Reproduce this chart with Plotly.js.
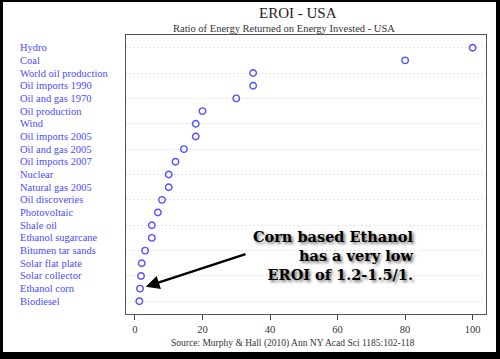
<!DOCTYPE html>
<html>
<head>
<meta charset="utf-8">
<script src="https://cdn.plot.ly/plotly-3.0.1.min.js"></script>
<style>
html,body{margin:0;padding:0;background:#000;width:500px;height:359px;overflow:hidden;}
#chart{position:absolute;left:3px;top:2px;width:493px;height:350px;background:#fff;}
</style>
</head>
<body>
<div id="chart"></div>
<script>
const labels = ["Hydro","Coal","World oil production","Oil imports 1990","Oil and gas 1970",
  "Oil production","Wind","Oil imports 2005","Oil and gas 2005","Oil imports 2007",
  "Nuclear","Natural gas 2005","Oil discoveries","Photovoltaic","Shale oil",
  "Ethanol sugarcane","Bitumen tar sands","Solar flat plate","Solar collector","Ethanol corn","Biodiesel"];
const eroi = [100, 80, 35, 35, 30, 20, 18, 18, 14.5, 12, 10, 10, 8, 6.8, 5, 5, 3, 2, 1.8, 1.5, 1.3];
const xTicks = [0, 20, 40, 60, 80, 100];
const titleText = "EROI - USA";
const subtitleText = "Ratio of Energy Returned on Energy Invested - USA";
const sourceText = "Source: Murphy &amp; Hall (2010) Ann NY Acad Sci 1185:102-118";
const calloutText = "Corn based Ethanol<br>has a very low<br>EROI of 1.2-1.5/1.";
const calloutTarget = "Ethanol corn";

const n = labels.length;
const serif = "Liberation Serif, Times New Roman, serif";

const trace = {
  type: "scatter", mode: "markers",
  x: eroi, y: labels,
  marker: {symbol: "circle-open", size: 6.5, color: "#5050ff", line: {width: 1.4, color: "#5050ff"}},
  hoverinfo: "x+y", cliponaxis: false
};

const annotations = labels.map(c => ({
  text: c, xref: "paper", yref: "y", x: -0.3, y: c,
  xanchor: "left", yanchor: "middle", showarrow: false,
  font: {family: serif, size: 10.5, color: "#4a4aff"}
}));

annotations.push(
  {text: titleText, xref: "paper", yref: "paper", x: 0.478, y: 1.079, xanchor: "center", yanchor: "middle",
   showarrow: false, font: {family: serif, size: 15, color: "#222"}},
  {text: subtitleText, xref: "paper", yref: "paper", x: 0.439, y: 1.025, xanchor: "center", yanchor: "middle",
   showarrow: false, font: {family: serif, size: 10.5, color: "#333"}},
  {text: sourceText, xref: "paper", yref: "paper", x: 0.464, y: -0.104, xanchor: "center", yanchor: "middle",
   showarrow: false, font: {family: serif, size: 9.5, color: "#333"}},
  {text: calloutText, xref: "paper", yref: "paper", x: 0.802, y: 0.211, xanchor: "right", yanchor: "middle",
   align: "right", showarrow: false,
   font: {family: "DejaVu Serif, serif", size: 14.5, color: "#000", weight: "bold",
          shadow: "2px 2px 3px rgba(0,0,0,0.55)"}},
  {text: "", x: eroi[labels.indexOf(calloutTarget)], y: calloutTarget, xref: "x", yref: "y",
   showarrow: true, ax: 107, ay: -35, axref: "pixel", ayref: "pixel",
   arrowhead: 2, arrowsize: 1.1, arrowwidth: 2.5, arrowcolor: "#000", standoff: 6}
);

const layout = {
  width: 493, height: 350,
  margin: {l: 123, r: 10, t: 33, b: 38, pad: 0},
  paper_bgcolor: "#fff", plot_bgcolor: "#fff",
  showlegend: false,
  xaxis: {
    range: [-2.65, 103.95], tickvals: xTicks, ticktext: xTicks.map(String),
    ticks: "outside", ticklen: 5, tickwidth: 1, tickcolor: "#444",
    showgrid: false, zeroline: false,
    showline: true, mirror: true, linecolor: "#555", linewidth: 1,
    tickfont: {family: serif, size: 10.5, color: "#333"}
  },
  yaxis: {
    type: "category", categoryorder: "array", categoryarray: labels,
    range: [n, -1], showticklabels: false, ticks: "",
    showgrid: true, gridcolor: "#cfcfcf", griddash: "1px,3px", gridwidth: 1,
    zeroline: false, showline: true, mirror: true, linecolor: "#555", linewidth: 1
  },
  annotations: annotations
};

Plotly.newPlot("chart", [trace], layout, {displayModeBar: false, staticPlot: true});
</script>
</body>
</html>
